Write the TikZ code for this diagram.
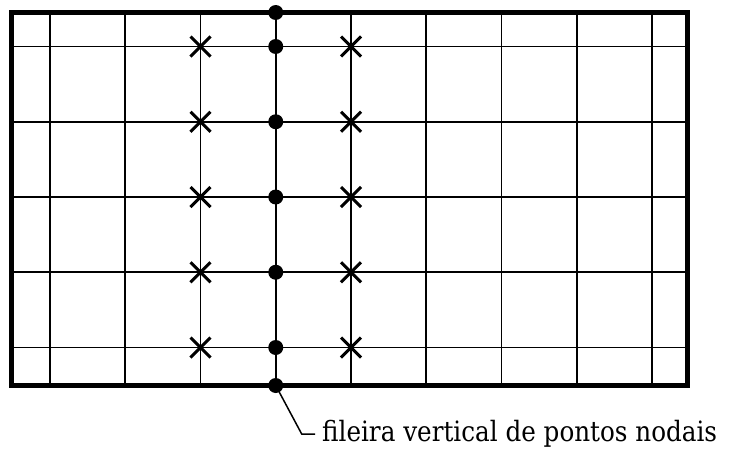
\documentclass[tikz,border=0pt]{standalone}
\usepackage{fontspec}
\setmainfont{DejaVu Serif}
\usetikzlibrary{shapes.misc}
\begin{document}
\begin{tikzpicture}[x=1pt,y=-1pt,
  gridline/.style={line width=1.9pt},
  border/.style={line width=4.5pt},
  nodept/.style={circle,fill=black,inner sep=0pt,minimum size=15pt},
  crosspt/.style={cross out,draw=black,line width=3pt,inner sep=0pt,minimum size=17pt},
  leader/.style={line width=1.5pt},
  lbl/.style={inner sep=0pt,anchor=base west,font=\fontsize{28}{32}\selectfont}]
\useasboundingbox (0,0) rectangle (756,450);
% grid
\foreach \i in {0,...,8}{
  \draw[gridline] ({50+75.25*\i},12.5) -- ({50+75.25*\i},385.5);
}
\foreach \j in {0,...,4}{
  \draw[gridline] (11.5,{46.5+75.25*\j}) -- (687.5,{46.5+75.25*\j});
}
\draw[border] (11.5,12.5) rectangle (687.5,385.5);
% nodal points
\node[nodept] (ptop) at (275.75,12.5) {};
\foreach \j in {0,...,4}{
  \node[nodept] (p\j) at (275.75,{46.5+75.25*\j}) {};
  \node[crosspt] (cl\j) at (200.5,{46.5+75.25*\j}) {};
  \node[crosspt] (cr\j) at (351,{46.5+75.25*\j}) {};
}
\node[nodept] (pbot) at (275.75,385.5) {};
% label
\node[lbl] (lab) at (322,441.5) {\scalebox{0.88}[1]{fileira vertical de pontos nodais}};
\coordinate (bend) at (301.7,434);
\coordinate (lend) at (315,434);
\draw[leader] (pbot.center) -- (bend) -- (lend);
\end{tikzpicture}
\end{document}
